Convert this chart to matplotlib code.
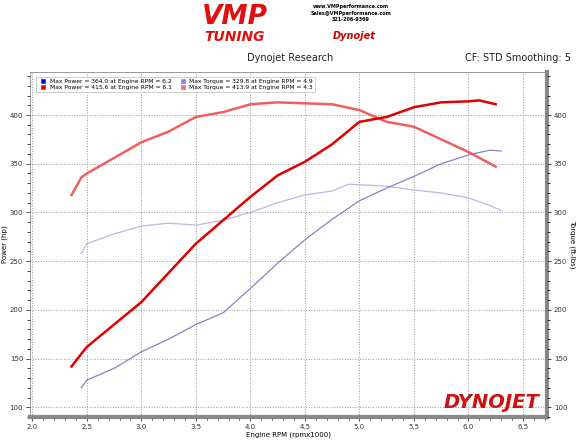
import matplotlib
matplotlib.use("Agg")
import matplotlib.pyplot as plt
from matplotlib.ticker import MultipleLocator
from matplotlib.lines import Line2D

# run 1 (blue) and run 2 (red)
blue_pw_rpm = [2.45, 2.5, 2.75, 3.0, 3.25, 3.5, 3.75, 4.0, 4.25, 4.5, 4.75, 5.0, 5.25, 5.5, 5.75, 6.0, 6.2, 6.3]
blue_pw = [120, 128, 140, 157, 170, 185, 197, 222, 248, 272, 293, 312, 325, 337, 350, 359, 364, 363]
blue_tq_rpm = [2.45, 2.5, 2.75, 3.0, 3.25, 3.5, 3.75, 4.0, 4.25, 4.5, 4.75, 4.9, 5.25, 5.5, 5.75, 6.0, 6.2, 6.3]
blue_tq = [258, 268, 278, 286, 289, 287, 292, 300, 310, 318, 322, 329, 327, 323, 320, 315, 307, 302]

red_rpm = [2.36, 2.45, 2.5, 2.75, 3.0, 3.25, 3.5, 3.75, 4.0, 4.25, 4.5, 4.75, 5.0, 5.25, 5.5, 5.75, 6.0, 6.1, 6.25]
red_pw = [142, 155, 162, 185, 208, 238, 268, 292, 316, 338, 352, 370, 393, 398, 408, 413, 414, 415, 411]
red_tq = [318, 336, 340, 356, 372, 383, 398, 403, 411, 413, 412, 411, 405, 393, 388, 375, 362, 356, 347]

fig = plt.figure(figsize=(5.8, 4.48), dpi=100)
ax = fig.add_axes([0.052, 0.069, 0.891, 0.77])

ax.plot(blue_tq_rpm, blue_tq, color="#b8b8e8", lw=0.9)
ax.plot(blue_pw_rpm, blue_pw, color="#8484c4", lw=0.9)
ax.plot(red_rpm, red_tq, color="#f06060", lw=1.8)
ax.plot(red_rpm, red_pw, color="#e00000", lw=1.8)

ax.set_xlim(1.98, 6.72)
ax.set_ylim(90, 444)
ax.xaxis.set_major_locator(MultipleLocator(0.5))
ax.xaxis.set_minor_locator(MultipleLocator(0.1))
ax.yaxis.set_major_locator(MultipleLocator(50))
ax.yaxis.set_minor_locator(MultipleLocator(10))
ax.grid(True, which="major", ls=":", color="#999999", lw=0.7)
ax.tick_params(labelsize=5, length=3, width=0.6, colors="#333333", pad=2)
ax.tick_params(which="minor", length=2, width=0.5)
ax.set_xlabel("Engine RPM (rpmx1000)", fontsize=5, labelpad=1)
ax.set_ylabel("Power (hp)", fontsize=5, labelpad=1)
for s in ax.spines.values():
    s.set_color("#888888")
    s.set_linewidth(0.6)
ax.spines["right"].set_linewidth(3)
ax.spines["bottom"].set_linewidth(3)

ax2 = ax.twinx()
ax2.set_ylim(ax.get_ylim())
ax2.yaxis.set_major_locator(MultipleLocator(50))
ax2.yaxis.set_minor_locator(MultipleLocator(10))
ax2.tick_params(labelsize=5, length=3, width=0.6, colors="#333333", pad=2)
ax2.tick_params(which="minor", length=2, width=0.5)
ax2.set_ylabel("Torque (ft-lbs)", fontsize=5, rotation=270, labelpad=6)
for s in ax2.spines.values():
    s.set_visible(False)

h = [Line2D([], [], ls="none", marker="s", ms=3.5, mfc="#0000cc", mec="#3333cc", mew=0.5),
     Line2D([], [], ls="none", marker="s", ms=3.5, mfc="#dd0000", mec="#dd3333", mew=0.5),
     Line2D([], [], ls="none", marker="s", ms=3.5, mfc="#8888dd", mec="#8888dd", mew=0.5),
     Line2D([], [], ls="none", marker="s", ms=3.5, mfc="#f07070", mec="#f07070", mew=0.5)]
labels = ["Max Power = 364.0 at Engine RPM = 6.2",
          "Max Power = 415.6 at Engine RPM = 6.1",
          "Max Torque = 329.8 at Engine RPM = 4.9",
          "Max Torque = 413.9 at Engine RPM = 4.3"]
leg = ax.legend(h, labels, ncol=2, loc="upper left", bbox_to_anchor=(0.005, 0.995), fontsize=4.3,
                frameon=True, fancybox=False, handletextpad=0.1, columnspacing=0.8,
                borderpad=0.3, labelspacing=0.25, edgecolor="#aaaaaa")
leg.get_frame().set_linewidth(0.5)

ax.text(0.985, 0.015, "DYNOJET", transform=ax.transAxes, ha="right", va="bottom",
        fontsize=14, fontweight="heavy", style="italic", color="#d01010")

fig.text(0.5, 0.863, "Dynojet Research", fontsize=7, ha="center", color="#222222")
fig.text(0.985, 0.863, "CF: STD Smoothing: 5", fontsize=7, ha="right", color="#222222")
fig.text(0.405, 0.963, "VMP", fontsize=19, fontweight="heavy", style="italic", color="#e01010",
         ha="center", va="center")
fig.text(0.405, 0.918, "TUNING", fontsize=10, fontweight="heavy", style="italic", color="#e01010",
         ha="center", va="center")
fig.text(0.605, 0.99, "www.VMPperformance.com\nSales@VMPperformance.com\n321-206-9369",
         fontsize=3.5, fontweight="bold", ha="center", va="top", linespacing=1.3)
fig.text(0.61, 0.92, "Dynojet", fontsize=7, fontweight="heavy", style="italic", color="#cc0000",
         ha="center", va="center")

fig.savefig("out.png", dpi=100)
